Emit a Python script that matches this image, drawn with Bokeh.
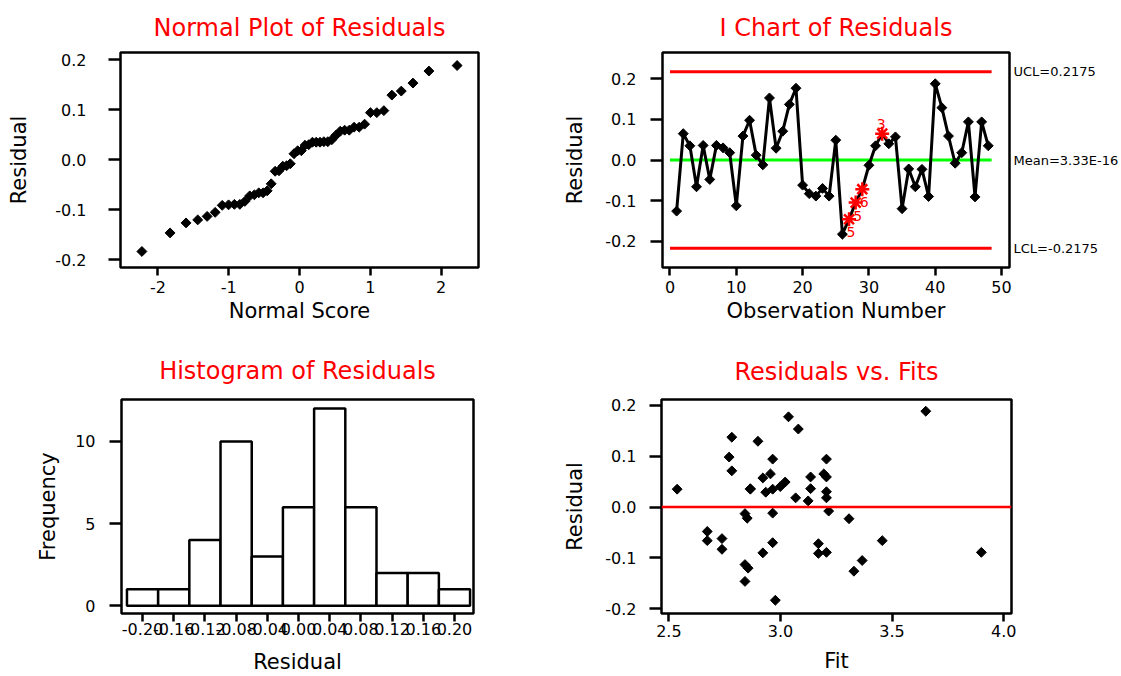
import numpy as np
from statistics import NormalDist
from bokeh.plotting import figure
from bokeh.layouts import column, row
from bokeh.models import Range1d, FixedTicker, PrintfTickFormatter, Span, LinearAxis
from bokeh.core.properties import value
from bokeh.embed import file_html
from bokeh.resources import INLINE

FONT = "DejaVu Sans"

# ---------------- data ----------------
obs = list(range(1, 49))
residuals = [-0.126, 0.065, 0.035, -0.066, 0.036, -0.048, 0.036, 0.030, 0.018, -0.113,
             0.059, 0.098, 0.012, -0.012, 0.153, 0.029, 0.071, 0.137, 0.177, -0.062,
             -0.083, -0.089, -0.070, -0.089, 0.049, -0.183, -0.146, -0.105, -0.072, -0.013,
             0.035, 0.065, 0.040, 0.057, -0.120, -0.022, -0.066, -0.023, -0.090, 0.188,
             0.129, 0.059, -0.008, 0.018, 0.094, -0.091, 0.094, 0.035]
fits = [3.329, 2.955, 2.537, 3.456, 3.135, 2.672, 2.865, 3.206, 3.068, 2.841,
        3.206, 2.770, 3.124, 2.965, 3.080, 2.934, 2.782, 2.782, 3.036, 2.738,
        2.738, 3.900, 2.965, 3.206, 3.021, 2.977, 2.841, 3.366, 3.170, 2.841,
        2.865, 3.194, 2.999, 2.921, 2.855, 2.851, 2.672, 3.307, 2.921, 3.651,
        2.899, 3.135, 3.216, 3.206, 2.965, 3.170, 3.206, 2.965]
ucl, mean_value, lcl = 0.2175, 3.33e-16, -0.2175
ucl_text, mean_text, lcl_text = "UCL=0.2175", "Mean=3.33E-16", "LCL=-0.2175"
flag_obs = [27, 28, 29, 32]
flag_tests = ["5", "5", "6", "3"]
hist_centers = [-0.20, -0.16, -0.12, -0.08, -0.04, 0.00, 0.04, 0.08, 0.12, 0.16, 0.20]
hist_counts = [1, 1, 4, 10, 3, 6, 12, 6, 2, 2, 1]
hist_bin_width = 0.04

# normal scores (Blom) for sorted residuals
n = len(residuals)
sorted_res = sorted(residuals)
normal_scores = [NormalDist().inv_cdf((i - 0.375) / (n + 0.25)) for i in range(1, n + 1)]


def make_fig(w, h, title, xr, yr, bl, br, bt, bb, title_standoff):
    p = figure(width=w, height=h, x_range=Range1d(*xr), y_range=Range1d(*yr),
               output_backend="svg", toolbar_location=None, tools="",
               min_border_left=bl, min_border_right=br, min_border_top=bt, min_border_bottom=bb)
    p.title.text = title
    p.title.align = "center"
    p.title.text_color = "red"
    p.title.text_font = FONT
    p.title.text_font_size = "24px"
    p.title.text_font_style = "normal"
    p.title.standoff = title_standoff
    p.outline_line_color = "black"
    p.outline_line_width = 2.5
    p.outline_line_alpha = 1.0
    p.grid.visible = False
    p.background_fill_color = "white"
    p.border_fill_color = "white"
    for ax in list(p.xaxis) + list(p.yaxis):
        ax.axis_line_color = None
        ax.major_tick_in = 0
        ax.minor_tick_line_color = None
        ax.major_tick_line_width = 2.5
        ax.major_tick_line_color = "black"
        ax.major_label_text_font = FONT
        ax.major_label_text_font_size = "16px"
        ax.major_label_text_color = "black"
        ax.axis_label_text_font = FONT
        ax.axis_label_text_font_size = "21px"
        ax.axis_label_text_font_style = "normal"
        ax.axis_label_text_color = "black"
    p.yaxis.major_tick_out = 12
    p.xaxis.major_tick_out = 8
    return p


def diamonds(p, x, y):
    p.scatter(x, y, marker="square", angle=np.pi / 4, size=7,
              fill_color="black", line_color="black", line_width=1)


# ---------------- Normal plot ----------------
p1 = make_fig(560, 338, "Normal Plot of Residuals", (-2.53, 2.53), (-0.215, 0.214),
              120, 82, 52, 71, 21)
diamonds(p1, normal_scores, sorted_res)
p1.xaxis.ticker = FixedTicker(ticks=[-2, -1, 0, 1, 2])
p1.xaxis.formatter = PrintfTickFormatter(format="%d")
p1.yaxis.ticker = FixedTicker(ticks=[-0.2, -0.1, 0.0, 0.1, 0.2])
p1.yaxis.formatter = PrintfTickFormatter(format="%.1f")
p1.xaxis.axis_label = "Normal Score"
p1.yaxis.axis_label = "Residual"
p1.yaxis.major_label_standoff = 22
p1.yaxis.axis_label_standoff = 21
p1.xaxis.major_label_standoff = 5
p1.xaxis.axis_label_standoff = 3

# ---------------- I chart ----------------
p2 = make_fig(561, 338, "I Chart of Residuals", (-1.13, 51.2), (-0.265, 0.265),
              94, 111, 52, 71, 21)
line_x = [0, len(obs) + 0.5]
p2.line(line_x, [ucl, ucl], line_color="red", line_width=3)
p2.line(line_x, [lcl, lcl], line_color="red", line_width=3)
p2.line(line_x, [mean_value, mean_value], line_color="#00ff00", line_width=3)
p2.line(obs, residuals, line_color="black", line_width=3)
ok_x = [o for o in obs if o not in flag_obs]
ok_y = [residuals[o - 1] for o in ok_x]
diamonds(p2, ok_x, ok_y)
flag_y = [residuals[o - 1] for o in flag_obs]
p2.scatter(flag_obs, flag_y, marker="asterisk", size=14, line_color="red", line_width=2.5)
p2.text(flag_obs[:3], flag_y[:3], text=flag_tests[:3], text_color="red",
        text_font=value(FONT), text_font_size="14px", text_align="center",
        text_baseline="middle", x_offset=2, y_offset=13)
p2.text(flag_obs[3:], flag_y[3:], text=flag_tests[3:], text_color="red",
        text_font=value(FONT), text_font_size="14px", text_align="center",
        text_baseline="middle", x_offset=-1, y_offset=-10)
limit_axis = LinearAxis(
    ticker=FixedTicker(ticks=[lcl, mean_value, ucl]),
    major_label_overrides={lcl: lcl_text, mean_value: mean_text, ucl: ucl_text},
    axis_line_color=None, major_tick_line_color=None, major_tick_in=0, major_tick_out=0,
    minor_tick_line_color=None, major_label_standoff=4,
    major_label_text_font=FONT, major_label_text_font_size="13px",
    major_label_text_color="black")
p2.add_layout(limit_axis, "right")
p2.xaxis.ticker = FixedTicker(ticks=[0, 10, 20, 30, 40, 50])
p2.xaxis.formatter = PrintfTickFormatter(format="%d")
p2.yaxis[0].ticker = FixedTicker(ticks=[-0.2, -0.1, 0.0, 0.1, 0.2])
p2.yaxis[0].formatter = PrintfTickFormatter(format="%.1f")
p2.xaxis.axis_label = "Observation Number"
p2.yaxis[0].axis_label = "Residual"
p2.yaxis[0].major_label_standoff = 14
p2.yaxis[0].axis_label_standoff = 15
p2.xaxis.major_label_standoff = 5
p2.xaxis.axis_label_standoff = 3

# ---------------- Histogram ----------------
p3 = make_fig(560, 338, "Histogram of Residuals", (-0.227, 0.2244), (-0.47, 12.55),
              121, 87, 61, 63, 29)
lefts = [c - hist_bin_width / 2 for c in hist_centers]
rights = [c + hist_bin_width / 2 for c in hist_centers]
p3.quad(left=lefts, right=rights, bottom=0, top=hist_counts,
        fill_color="white", line_color="black", line_width=2.5)
p3.xaxis.ticker = FixedTicker(ticks=hist_centers)
p3.xaxis.formatter = PrintfTickFormatter(format="%.2f")
p3.yaxis.ticker = FixedTicker(ticks=[0, 5, 10])
p3.yaxis.formatter = PrintfTickFormatter(format="%d")
p3.xaxis.axis_label = "Residual"
p3.yaxis.axis_label = "Frequency"
p3.yaxis.major_label_standoff = 14
p3.yaxis.axis_label_standoff = 12
p3.xaxis.major_label_standoff = 1
p3.xaxis.axis_label_standoff = 12

# ---------------- Residuals vs fits ----------------
p4 = make_fig(561, 338, "Residuals vs. Fits", (2.467, 4.035), (-0.209, 0.211),
              94, 110, 60, 62, 28)
p4.add_layout(Span(location=0, dimension="width", line_color="red", line_width=2.5))
diamonds(p4, fits, residuals)
p4.xaxis.ticker = FixedTicker(ticks=[2.5, 3.0, 3.5, 4.0])
p4.xaxis.formatter = PrintfTickFormatter(format="%.1f")
p4.yaxis.ticker = FixedTicker(ticks=[-0.2, -0.1, 0.0, 0.1, 0.2])
p4.yaxis.formatter = PrintfTickFormatter(format="%.1f")
p4.xaxis.axis_label = "Fit"
p4.yaxis.axis_label = "Residual"
p4.yaxis.major_label_standoff = 13
p4.yaxis.axis_label_standoff = 15
p4.xaxis.major_label_standoff = 3
p4.xaxis.axis_label_standoff = 9

layout = column(row(p1, p2), row(p3, p4))
open("out.html", "w").write(file_html(layout, INLINE))
